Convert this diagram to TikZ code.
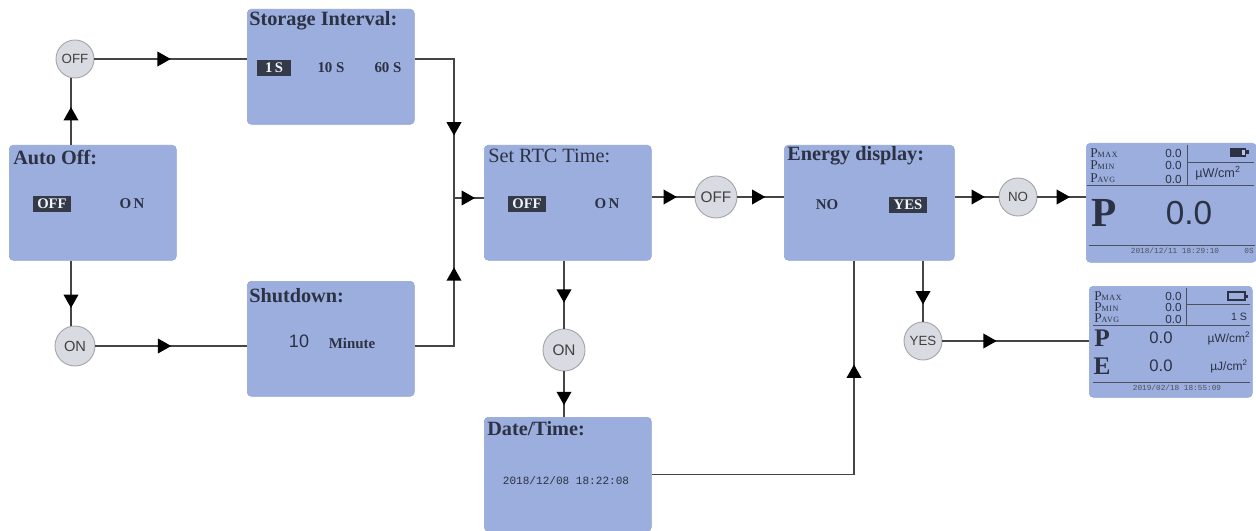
\documentclass[tikz,border=0pt]{standalone}
\usepackage{fontspec}
\setmainfont{Liberation Serif}
\setsansfont{Liberation Sans}
\setmonofont{Liberation Mono}
\usetikzlibrary{arrows.meta,decorations.markings}
\newcommand{\fsz}[1]{\fontsize{#1}{#1}\selectfont}
\newcommand{\pwr}[1]{P{\fsz{6}\addfontfeatures{LetterSpace=8}#1}}
\definecolor{lcdfill}{HTML}{9BAEDD}
\definecolor{lcdedge}{HTML}{8FA3D6}
\definecolor{ink}{HTML}{2C3244}
\definecolor{wire}{HTML}{454545}
\definecolor{discfill}{HTML}{D9DBE2}
\definecolor{discedge}{HTML}{A5A6AC}
\definecolor{invfill}{HTML}{343A48}
\tikzset{
  x=0.75pt,y=-0.75pt,
  lcd/.style={anchor=north west,fill=lcdfill,draw=lcdedge,line width=0.4pt,rounded corners=3pt,inner sep=0pt},
  disc/.style={circle,fill=discfill,draw=discedge,line width=0.7pt,inner sep=0pt,minimum size=#1*0.75pt,font=\sffamily\fsz{10},text=black!75},
  wirel/.style={draw=wire,line width=1.15pt},
  arrowat/.style={postaction={decorate,decoration={markings,mark=at position #1 with {\arrow[black]{Triangle[length=10pt,width=11pt]}}}}},
  title/.style={anchor=west,inner sep=0pt,text=ink,font=\bfseries\fsz{15.2}},
  opt/.style={inner sep=0pt,text=ink,font=\bfseries\fsz{11.2}},
  inv/.style={fill=invfill,text=white!85!lcdfill,inner sep=0pt,minimum height=12pt,font=\bfseries\fsz{11}},
  datetxt/.style={inner sep=0pt,text=ink,font=\ttfamily\fsz{8.3}},
  smalldate/.style={inner sep=0pt,text=ink!85,font=\ttfamily\fsz{5.8}},
  plabel/.style={anchor=west,inner sep=0pt,text=ink,font=\fsz{10}},
  pval/.style={anchor=east,inner sep=0pt,text=ink,font=\sffamily\fsz{8.8}},
  bigval/.style={inner sep=0pt,text=ink,font=\sffamily\fsz{#1}},
  unit/.style={inner sep=0pt,text=ink,font=\sffamily\fsz{9.5}},
  rulel/.style={draw=ink!85,line width=0.6pt},
}
\begin{document}
\begin{tikzpicture}
\useasboundingbox (0,0) rectangle (1256,531);
% LCD boxes
\node[lcd,minimum width=125.25pt,minimum height=86.25pt] (autooff) at (9,145) {};
\node[lcd,minimum width=125.25pt,minimum height=86.25pt] (store) at (247,9) {};
\node[lcd,minimum width=125.25pt,minimum height=86.25pt] (shut) at (247,281) {};
\node[lcd,minimum width=125.25pt,minimum height=86.25pt] (rtc) at (484,145) {};
\node[lcd,minimum width=127.5pt,minimum height=86.25pt] (energy) at (784,145) {};
\node[lcd,minimum width=125.25pt,minimum height=85.5pt] (date) at (484,417) {};
\node[lcd,minimum width=127.5pt,minimum height=89.25pt] (dispa) at (1086,143) {};
\node[lcd,minimum width=122.25pt,minimum height=83.25pt] (dispb) at (1089,286) {};
% discs
\node[disc=38] (offa) at (75,59) {OFF};
\node[disc=40,font=\sffamily\fsz{11}] (ona) at (75,346) {ON};
\node[disc=42,font=\sffamily\fsz{11.5}] (offb) at (716,197) {OFF};
\node[disc=42,font=\sffamily\fsz{11.5}] (onb) at (564,350) {ON};
\node[disc=38] (no) at (1018,197) {NO};
\node[disc=38] (yes) at (923,341) {YES};
% helpers
\coordinate (xa) at (71,0);
\coordinate (j) at (454,198);
\coordinate (xe) at (854,0);
% connectors
\draw[wirel,arrowat=.57] (xa |- autooff.north) -- (xa |- offa.south);
\draw[wirel,arrowat=.5] (offa.east) -- (offa -| store.west);
\draw[wirel,arrowat=.73] (xa |- autooff.south) -- (xa |- ona.north);
\draw[wirel,arrowat=.5] (ona.east) -- (ona -| shut.west);
\draw[wirel,arrowat=.65] (offa -| store.east) -- (offa -| j) -- (j);
\draw[wirel,arrowat=.63] (ona -| shut.east) -- (ona -| j) -- (j);
\draw[wirel,arrowat=.7] (j) -- (j -| rtc.west);
\draw[wirel,arrowat=.59] (offb -| rtc.east) -- (offb.west);
\draw[wirel,arrowat=.6] (offb.east) -- (offb -| energy.west);
\draw[wirel,arrowat=.69] (no -| energy.east) -- (no.west);
\draw[wirel,arrowat=.67] (no.east) -- (no -| dispa.west);
\draw[wirel,arrowat=.72] (yes |- energy.south) -- (yes.north);
\draw[wirel,arrowat=.37] (yes.east) -- (yes -| dispb.west);
\draw[wirel,arrowat=.62] (onb |- rtc.south) -- (onb.north);
\draw[wirel,arrowat=.74] (onb.south) -- (onb |- date.north);
\draw[wirel,arrowat=.75] (date.east) -- (date.east -| xe) -- (xe |- energy.south);
% Auto Off
\node[title] (t1) at (13,158) {Auto Off:};
\node[inv,minimum width=29pt] (t1a) at (52,204) {OFF};
\node[opt] (t1b) at (132,204) {O\,N};
% Storage
\node[title] (t2) at (249,21) {Storage Interval:};
\node[inv,minimum width=25pt] (t2a) at (274,68) {1\,S};
\node[opt] (t2b) at (331,68) {10 S};
\node[opt] (t2c) at (388,68) {60 S};
% Shutdown
\node[title] (t3) at (249,296) {Shutdown:};
\node[inv,fill=none,text=ink,font=\sffamily\fsz{13.5}] (t3a) at (299,341) {10};
\node[opt] (t3b) at (352,343) {Minute};
% RTC
\node[title,font=\fsz{15.2}] (t4) at (488,156) {Set RTC Time:};
\node[inv,minimum width=29pt] (t4a) at (527,204) {OFF};
\node[opt] (t4b) at (607,204) {O\,N};
% Energy
\node[title] (t5) at (787,156) {Energy display:};
\node[opt] (t5a) at (827,205) {NO};
\node[inv,minimum width=29pt] (t5b) at (908,205) {YES};
% Date/Time
\node[title] (t6) at (487,429) {Date/Time:};
\node[datetxt] (t6a) at (566,481) {2018/12/08 18:22:08};
% Display A
\node[plabel] (a1) at (1090,153) {\pwr{MAX}};
\node[plabel] (a2) at (1090,165) {\pwr{MIN}};
\node[plabel] (a3) at (1090,178) {\pwr{AVG}};
\node[pval] (a4) at (1182,153) {0.0};
\node[pval] (a5) at (1182,165) {0.0};
\node[pval] (a6) at (1182,179) {0.0};
\draw[rulel] (1187,145) -- (1187,185);
\draw[rulel] (1187,162) -- (1254,162);
\draw[rulel] (1087,185) -- (1254,185);
\draw[rulel] (1089,245) -- (1255,245);
\fill[ink] (1230,148) rectangle (1246,157);
\fill[ink] (1246,150.5) rectangle (1248.5,154.5);
\fill[lcdfill!70!white] (1242,150) rectangle (1245,155);
\node[unit] (a7) at (1218,173) {µW/cm\textsuperscript{2}};
\node[inner sep=0pt,text=ink,font=\bfseries\fsz{31}] (a8) at (1104,213) {P};
\node[bigval=25] (a9) at (1189,213) {0.0};
\node[smalldate] (a10) at (1175,251) {2018/12/11 18:29:10};
\node[smalldate] (a11) at (1249,251) {0S};
% Display B
\node[plabel] (b1) at (1094,296) {\pwr{MAX}};
\node[plabel] (b2) at (1094,307) {\pwr{MIN}};
\node[plabel] (b3) at (1094,318) {\pwr{AVG}};
\node[pval] (b4) at (1182,296) {0.0};
\node[pval] (b5) at (1182,307) {0.0};
\node[pval] (b6) at (1182,319) {0.0};
\draw[rulel] (1186,288) -- (1186,325);
\draw[rulel] (1186,304) -- (1250,304);
\draw[rulel] (1093,325) -- (1250,325);
\draw[rulel] (1093,382) -- (1250,382);
\draw[ink,line width=1.3pt] (1228,292) rectangle (1245,300);
\fill[ink] (1245,294.5) rectangle (1247.5,297.5);
\node[unit,font=\sffamily\fsz{8}] (b7) at (1239,317) {1 S};
\node[inner sep=0pt,text=ink,font=\bfseries\fsz{19}] (b8) at (1102,338) {P};
\node[inner sep=0pt,text=ink,font=\bfseries\fsz{19}] (b9) at (1102,366) {E};
\node[bigval=12.5] (b10) at (1161,338) {0.0};
\node[bigval=12.5] (b11) at (1161,366) {0.0};
\node[unit,font=\sffamily\fsz{9}] (b12) at (1229,338) {µW/cm\textsuperscript{2}};
\node[unit,font=\sffamily\fsz{9}] (b13) at (1229,366) {µJ/cm\textsuperscript{2}};
\node[smalldate] (b14) at (1177,388) {2019/02/18 18:55:09};
\end{tikzpicture}
\end{document}
